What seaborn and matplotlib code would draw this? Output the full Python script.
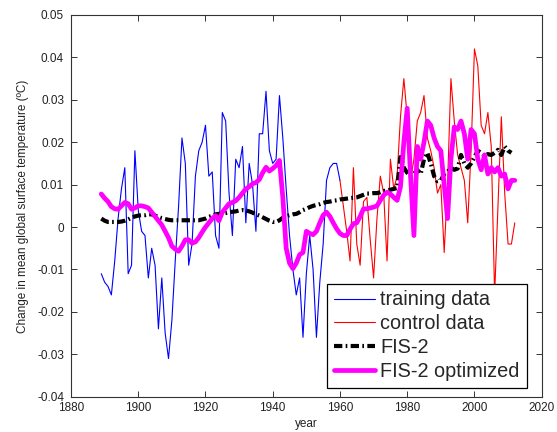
import numpy as np
import pandas as pd
import matplotlib
matplotlib.use("Agg")
import matplotlib.pyplot as plt
import seaborn as sns

# ---------------- data ----------------
train_start = 1889
train_vals = [-0.011, -0.013, -0.014, -0.016, -0.008, 0.002, 0.009, 0.014, -0.011, -0.009,
              0.018, 0.004, -0.001, -0.002, -0.012, -0.005, -0.009, -0.024, -0.012, -0.025,
              -0.031, -0.022, -0.008, 0.005, 0.021, 0.015, -0.009, -0.004, 0.012, 0.018,
              0.020, 0.024, 0.012, 0.013, -0.002, -0.005, 0.027, 0.025, 0.008, -0.002,
              0.016, 0.014, 0.019, 0.001, 0.015, 0.010, -0.001, 0.022, 0.022, 0.032,
              0.018, 0.015, 0.016, 0.031, 0.021, 0.009, -0.002, -0.010, -0.016, -0.012,
              -0.026, -0.011, -0.002, -0.010, -0.026, -0.013, -0.004, 0.011, 0.014, 0.015,
              0.015, 0.011]

control_start = 1960
control_vals = [0.011, 0.005, -0.001, -0.008, 0.014, -0.004, -0.009, 0.006, 0.007, -0.003,
                -0.012, 0.002, 0.012, 0.008, -0.008, 0.016, 0.009, 0.012, 0.026, 0.035,
                0.026, 0.011, 0.016, 0.025, 0.027, 0.031, 0.021, 0.018, 0.014, 0.008,
                0.010, -0.006, 0.010, 0.035, 0.025, 0.017, 0.014, 0.011, 0.001, 0.018,
                0.042, 0.038, 0.024, 0.022, 0.027, 0.019, -0.016, 0.005, 0.026, 0.008,
                -0.004, -0.004, 0.001]

model_start = 1889
fis2_vals = [0.0020, 0.0015, 0.0012, 0.0012, 0.0012, 0.0012, 0.0013, 0.0015, 0.0018, 0.0022,
             0.0025, 0.0027, 0.0028, 0.0028, 0.0030, 0.0030, 0.0027, 0.0024, 0.0021, 0.0019,
             0.0017, 0.0016, 0.0016, 0.0016, 0.0016, 0.0016, 0.0016, 0.0016, 0.0016, 0.0016,
             0.0018, 0.0020, 0.0024, 0.0027, 0.0030, 0.0031, 0.0032, 0.0033, 0.0035, 0.0036,
             0.0037, 0.0039, 0.0040, 0.0039, 0.0037, 0.0034, 0.0030, 0.0027, 0.0023, 0.0019,
             0.0015, 0.0012, 0.0012, 0.0016, 0.0022, 0.0026, 0.0028, 0.0030, 0.0031, 0.0035,
             0.0040, 0.0043, 0.0047, 0.0050, 0.0052, 0.0054, 0.0057, 0.0059, 0.0060, 0.0062,
             0.0063, 0.0065, 0.0066, 0.0067, 0.0068, 0.0069, 0.0070, 0.0073, 0.0076, 0.0079,
             0.0079, 0.0080, 0.0080, 0.0082, 0.0085, 0.0086, 0.0088, 0.0090, 0.0092, 0.0165,
             0.0140, 0.0128, 0.0120, 0.0125, 0.0135, 0.0125, 0.0160, 0.0175, 0.0150, 0.0120,
             0.0108, 0.0110, 0.0125, 0.0130, 0.0140, 0.0135, 0.0138, 0.0170, 0.0150, 0.0140,
             0.0150, 0.0165, 0.0180, 0.0175, 0.0168, 0.0172, 0.0170, 0.0175, 0.0182, 0.0170,
             0.0190, 0.0180, 0.0175]

fis2_opt_vals = [0.0078, 0.0068, 0.0060, 0.0048, 0.0043, 0.0042, 0.0050, 0.0058, 0.0055, 0.0042,
                 0.0045, 0.0050, 0.0050, 0.0048, 0.0045, 0.0035, 0.0025, 0.0015, 0.0005, -0.0010,
                 -0.0025, -0.0045, -0.0052, -0.0057, -0.0045, -0.0030, -0.0030, -0.0038, -0.0035, -0.0025,
                 -0.0012, 0.0000, 0.0010, 0.0020, 0.0027, 0.0015, 0.0035, 0.0045, 0.0055, 0.0058,
                 0.0062, 0.0070, 0.0080, 0.0090, 0.0095, 0.0102, 0.0105, 0.0112, 0.0128, 0.0141,
                 0.0132, 0.0138, 0.0145, 0.0157, 0.0070, -0.0050, -0.0085, -0.0098, -0.0085, -0.0065,
                 -0.0060, -0.0010, -0.0015, -0.0018, -0.0010, 0.0010, 0.0028, 0.0035, 0.0025, 0.0010,
                 -0.0004, -0.0015, -0.0020, -0.0020, -0.0005, 0.0008, 0.0010, 0.0025, 0.0043, 0.0043,
                 0.0045, 0.0047, 0.0050, 0.0063, 0.0075, 0.0082, 0.0078, 0.0070, 0.0063, 0.0095,
                 0.0200, 0.0280, 0.0120, -0.0020, 0.0190, 0.0160, 0.0200, 0.0250, 0.0240, 0.0210,
                 0.0190, 0.0180, 0.0100, 0.0020, 0.0160, 0.0236, 0.0230, 0.0250, 0.0220, 0.0160,
                 0.0230, 0.0220, 0.0160, 0.0135, 0.0170, 0.0125, 0.0140, 0.0130, 0.0140, 0.0120,
                 0.0125, 0.0090, 0.0110, 0.0110]

x_ticks = [1880, 1900, 1920, 1940, 1960, 1980, 2000, 2020]
y_ticks = [-0.04, -0.03, -0.02, -0.01, 0, 0.01, 0.02, 0.03, 0.04, 0.05]
y_tick_labels = ["-0.04", "-0.03", "-0.02", "-0.01", "0", "0.01", "0.02", "0.03", "0.04", "0.05"]

train = pd.DataFrame({"year": np.arange(train_start, train_start + len(train_vals)), "v": train_vals})
control = pd.DataFrame({"year": np.arange(control_start, control_start + len(control_vals)), "v": control_vals})
fis2 = pd.DataFrame({"year": np.arange(model_start, model_start + len(fis2_vals)), "v": fis2_vals})
fis2o = pd.DataFrame({"year": np.arange(model_start, model_start + len(fis2_opt_vals)), "v": fis2_opt_vals})

# ---------------- style ----------------
sns.set_style("white")
plt.rcParams["font.family"] = ["Liberation Sans", "DejaVu Sans"]

fig = plt.figure(figsize=(5.57, 4.32), dpi=100)
ax = fig.add_axes([0.1275, 0.0817, 0.845, 0.8836])

sns.lineplot(data=train, x="year", y="v", ax=ax, color="#0000ff", linewidth=0.8,
             label="training data", sort=False)
sns.lineplot(data=control, x="year", y="v", ax=ax, color="#ff0000", linewidth=0.8,
             label="control data", sort=False)
sns.lineplot(data=fis2, x="year", y="v", ax=ax, color="black", linewidth=3.0,
             label="FIS-2", sort=False)
sns.lineplot(data=fis2o, x="year", y="v", ax=ax, color="#ff00ff", linewidth=3.4,
             label="FIS-2 optimized", sort=False)
ax.lines[2].set_dashes((2.0, 0.8, 0.4, 0.8))

ax.set_xlim(1880, 2020)
ax.set_ylim(-0.04, 0.05)
ax.set_xticks(x_ticks)
ax.set_xticklabels([str(t) for t in x_ticks])
ax.set_yticks(y_ticks)
ax.set_yticklabels(y_tick_labels)

for s in ax.spines.values():
    s.set_visible(True)
    s.set_color("#333333")
    s.set_linewidth(0.8)

ax.tick_params(axis="both", which="major", direction="in", length=4, width=0.7,
               color="#333333", labelsize=8.5, labelcolor="#222222",
               top=True, right=True, bottom=True, left=True)
ax.tick_params(axis="x", pad=4)
ax.tick_params(axis="y", pad=5)

ax.set_xlabel("year", fontsize=8.5, color="#222222", labelpad=3)
ax.set_ylabel("Change in mean global surface temperature (ºC)", fontsize=8.5,
              color="#222222", labelpad=6)

handles, labels = ax.get_legend_handles_labels()
leg = ax.legend(handles, labels, loc="lower right", bbox_to_anchor=(0.968, 0.022),
                borderaxespad=0, fontsize=14.3, frameon=True, fancybox=False,
                edgecolor="black", framealpha=1, borderpad=0.35, labelspacing=0.25,
                handlelength=2.1, handletextpad=0.25)
leg.get_frame().set_linewidth(0.9)

fig.savefig("out.png", dpi=100)
